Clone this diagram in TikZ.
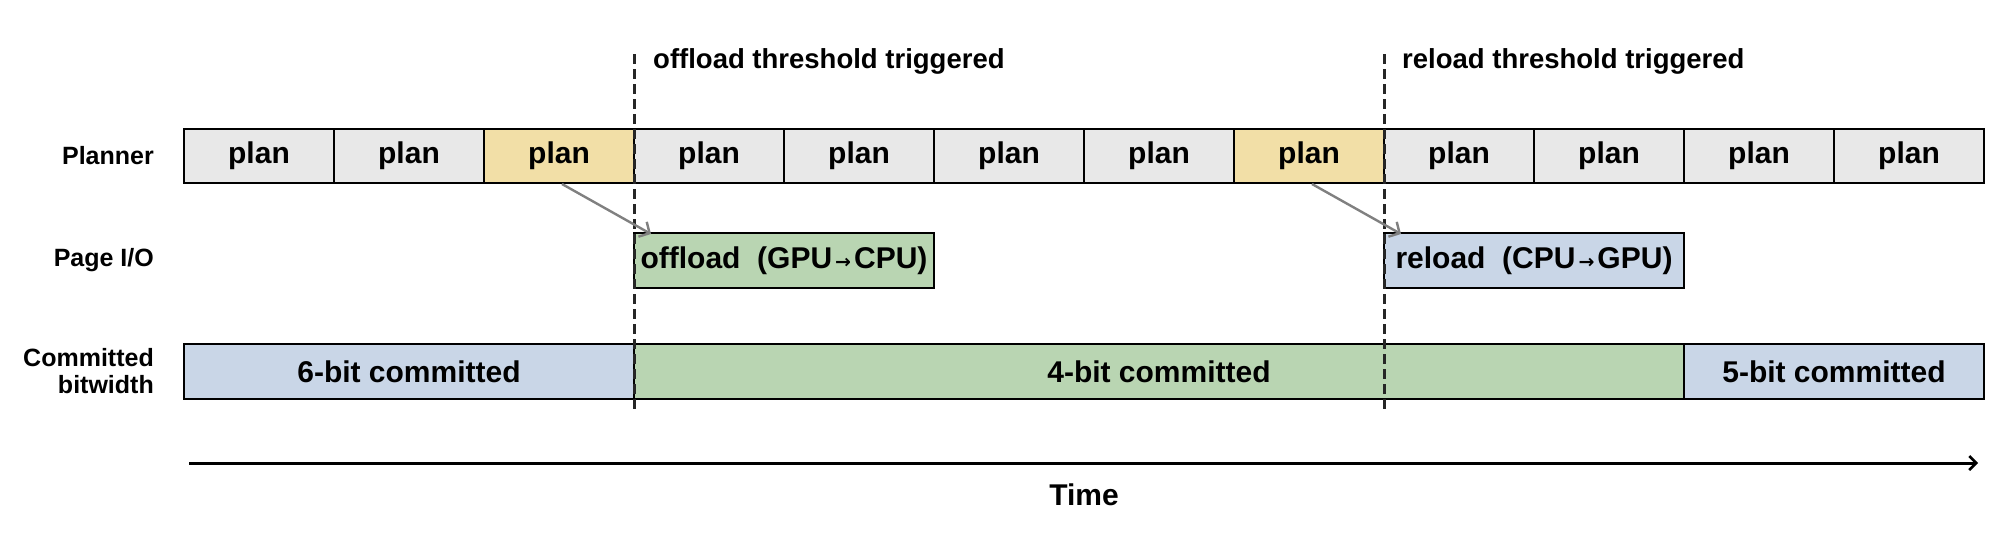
\documentclass[tikz,border=0pt]{standalone}
\usepackage{fontspec}
\setmainfont{Liberation Sans}
\newfontfamily\symfont{DejaVu Sans}
\usetikzlibrary{arrows.meta,calc}
\definecolor{cellgray}{HTML}{E8E8E8}
\definecolor{cellyellow}{HTML}{F2DFA7}
\definecolor{cellgreen}{HTML}{B9D5B2}
\definecolor{cellblue}{HTML}{C9D6E7}
\definecolor{arrowgray}{HTML}{808080}
\newcommand{\smallarr}{\hspace{3pt}{\symfont\fontsize{19}{19}\selectfont\raisebox{0pt}{→}}\hspace{3pt}}
\begin{document}
\begin{tikzpicture}[x=1pt,y=1pt,
  box/.style={draw=black, line width=2.3pt, inner sep=0pt, outer sep=0pt,
    anchor=north west, font=\fontsize{30}{36}\selectfont\bfseries},
  plancell/.style={box, minimum width=150pt, minimum height=54pt},
  iobox/.style={box, minimum width=300pt, minimum height=55pt},
  rowlabel/.style={anchor=east, align=right, inner sep=0pt,
    font=\fontsize{25}{27}\selectfont\bfseries},
  eventlabel/.style={anchor=west, inner sep=0pt,
    font=\fontsize{27.5}{32}\selectfont\bfseries},
  trigger/.style={draw=black!85, line width=3pt, dash pattern=on 10pt off 5pt},
  causal/.style={draw=arrowgray, line width=2.4pt,
    -{Straight Barb[length=8pt,width=17pt,line width=2.4pt]}},
  timeaxis/.style={draw=black, line width=3pt,
    -{Straight Barb[length=7pt,width=14pt,line width=2.5pt]}}
]
\useasboundingbox (0,0) rectangle (2000,-555);

% row labels
\node[rowlabel] (lplanner) at (154,-156) {Planner};
\node[rowlabel] (lio) at (154,-260) {Page I/O};
\node[rowlabel] (lbits) at (154,-371) {Committed\\bitwidth};

% planner row
\foreach \c [count=\i from 0] in {cellgray,cellgray,cellyellow,cellgray,cellgray,cellgray,cellgray,cellyellow,cellgray,cellgray,cellgray,cellgray}
  \node[plancell, fill=\c] (p\i) at ({184+150*\i},-129) {plan};

% page I/O row
\node[iobox, fill=cellgreen] (off) at (634,-233) {offload\ \ (GPU\smallarr CPU)};
\node[iobox, fill=cellblue] (rel) at (1384,-233) {reload\ \ (CPU\smallarr GPU)};

% committed bitwidth row
\node[box, fill=cellblue, minimum width=450pt, minimum height=55pt] (b6) at (184,-344) {6-bit committed};
\node[box, fill=cellgreen, minimum width=1050pt, minimum height=55pt] (b4) at (634,-344) {4-bit committed};
\node[box, fill=cellblue, minimum width=300pt, minimum height=55pt] (b5) at (1684,-344) {5-bit committed};

% trigger lines
\coordinate (t1top) at (634,-54);
\coordinate (t1bot) at (634,-409);
\coordinate (t2top) at (1384,-54);
\coordinate (t2bot) at (1384,-409);
\draw[trigger] (t1top) -- (t1bot);
\draw[trigger] (t2top) -- (t2bot);
\node[eventlabel] (ev1) at (653,-61) {offload threshold triggered};
\node[eventlabel] (ev2) at (1402,-61) {reload threshold triggered};

% causal arrows
\draw[causal] ($(p2.south)+(3,-1)$) -- ($(off.north west)+(17,-1)$);
\draw[causal] ($(p7.south)+(3,-1)$) -- ($(rel.north west)+(17,-1)$);

% time axis
\coordinate (tstart) at (189,-463);
\coordinate (tend) at (1978,-463);
\draw[timeaxis] (tstart) -- (tend);
\node[font=\fontsize{30}{36}\selectfont\bfseries, inner sep=0pt] (time) at (1084,-495) {Time};
\end{tikzpicture}
\end{document}
